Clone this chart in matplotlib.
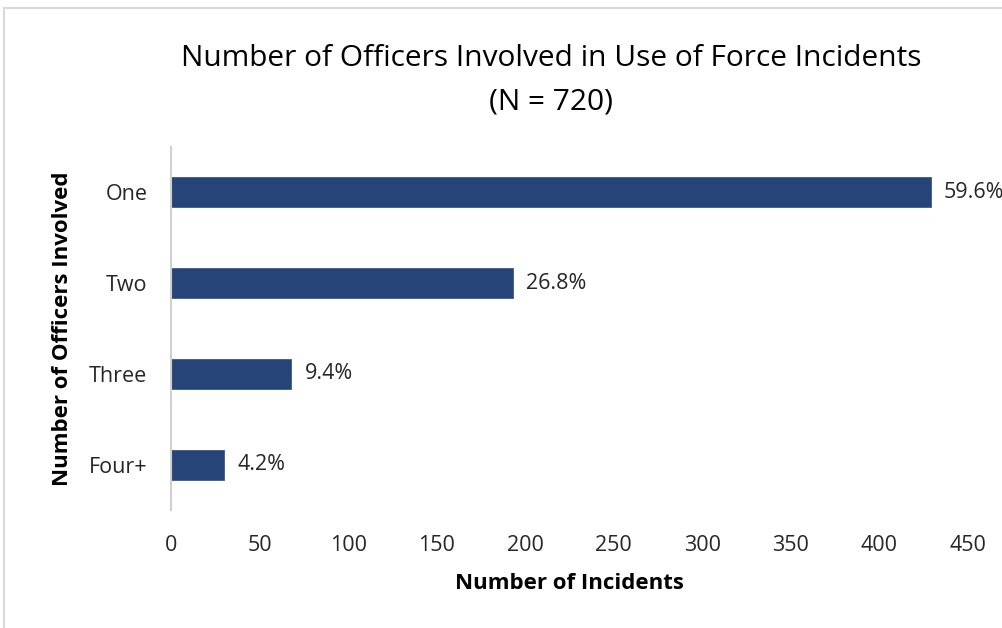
import matplotlib.pyplot as plt
from matplotlib.patches import Rectangle

categories = ["One", "Two", "Three", "Four+"]
incidents = [429, 193, 68, 30]
percent_labels = ["59.6%", "26.8%", "9.4%", "4.2%"]
x_ticks = [0, 50, 100, 150, 200, 250, 300, 350, 400, 450]

plt.rcParams['font.family'] = ['Open Sans', 'DejaVu Sans']

W, H = 1003, 628
fig = plt.figure(figsize=(W / 100, H / 100), dpi=100)
fig.patch.set_facecolor('white')

# light frame around the chart area
fig.patches.append(Rectangle((4 / W, -0.1), 1.2, 1 - 8 / H + 0.1,
                             transform=fig.transFigure, fill=False,
                             edgecolor='#D9D9D9', linewidth=1.5))

ax = fig.add_axes([171 / W, 1 - 510 / H, (968 - 171) / W, (510 - 147) / H])
bar_color = '#264478'
ypos = list(range(len(categories)))
ax.barh(ypos, incidents, height=0.33, color=bar_color, edgecolor='#3A5A8C', linewidth=0.6)
ax.set_ylim(len(categories) - 0.5, -0.5)
ax.set_xlim(0, 450)
ax.set_yticks(ypos)
ax.set_yticklabels(categories)
ax.set_xticks(x_ticks)
ax.set_xticklabels([str(t) for t in x_ticks])
ax.tick_params(axis='both', length=0, labelsize=15.5, colors='#262626')
ax.tick_params(axis='y', pad=17)
ax.tick_params(axis='x', pad=18)

for s in ['top', 'right', 'bottom']:
    ax.spines[s].set_visible(False)
ax.spines['left'].set_color('#D0D0D0')
ax.spines['left'].set_linewidth(1.5)

for y, v, lab in zip(ypos, incidents, percent_labels):
    ax.annotate(lab, xy=(v, y), xytext=(13, 0), textcoords='offset pixels',
                va='center', ha='left', fontsize=15.5, color='#262626',
                annotation_clip=False)

ax.set_xlabel("Number of Incidents", fontsize=16, fontweight='bold', color='#000000', labelpad=12)
ax.set_ylabel("Number of Officers Involved", fontsize=16, fontweight='bold', color='#000000', labelpad=11)

fig.text(551 / W, 1 - 59 / H, "Number of Officers Involved in Use of Force Incidents",
         ha='center', va='center', fontsize=21.5, color='#000000')
fig.text(551 / W, 1 - 102 / H, "(N = 720)", ha='center', va='center', fontsize=21.5, color='#000000')

fig.savefig('out.png', dpi=100)
